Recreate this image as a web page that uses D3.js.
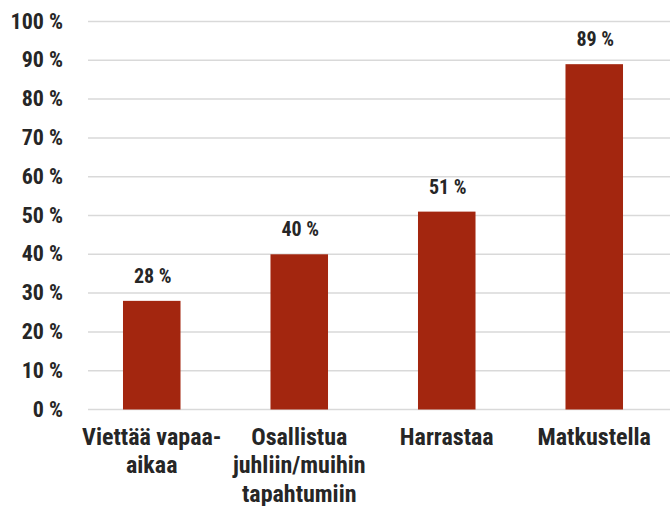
<!DOCTYPE html>
<html>
<head>
<meta charset="utf-8">
<script src="https://cdn.jsdelivr.net/npm/d3@7"></script>
<style>
  body { margin: 0; background: #fff; }
  text { font-family: "Roboto Condensed", "Open Sans", sans-serif; font-weight: bold; fill: #262626; }
</style>
</head>
<body>
<div id="chart"></div>
<script>
var categories = [["Viettää vapaa-", "aikaa"], ["Osallistua", "juhliin/muihin", "tapahtumiin"], ["Harrastaa"], ["Matkustella"]];
var values = [28, 40, 51, 89];
var yTicks = [0, 10, 20, 30, 40, 50, 60, 70, 80, 90, 100];

var svgWidth = 670;
var svgHeight = 506;

var svg = d3.select("#chart")
  .append("svg")
  .attr("width", svgWidth)
  .attr("height", svgHeight);

var gridLeft = 88;
var gridRight = 670;

var xScale = d3.scaleBand()
  .domain(d3.range(categories.length))
  .range([78, 668])
  .paddingInner(0.61)
  .paddingOuter(0.305);

var yScale = d3.scaleLinear()
  .domain([0, 100])
  .range([409.5, 21.5]);

// gridlines
svg.append("g")
  .selectAll("line")
  .data(yTicks)
  .enter()
  .append("line")
  .attr("x1", gridLeft)
  .attr("x2", gridRight)
  .attr("y1", d => yScale(d))
  .attr("y2", d => yScale(d))
  .attr("stroke", "#d9d9d9")
  .attr("stroke-width", 1.5);

// y labels
svg.append("g")
  .selectAll("text")
  .data(yTicks)
  .enter()
  .append("text")
  .attr("x", 63)
  .attr("y", d => yScale(d) + 7)
  .attr("text-anchor", "end")
  .style("font-size", "22px")
  .text(d => d + " %");

// bars
svg.append("g")
  .selectAll("rect")
  .data(values)
  .enter()
  .append("rect")
  .attr("x", (d, i) => xScale(i))
  .attr("width", xScale.bandwidth())
  .attr("y", d => yScale(d))
  .attr("height", d => yScale(0) - yScale(d))
  .attr("fill", "#a3260f");

// value labels
svg.append("g")
  .selectAll("text")
  .data(values)
  .enter()
  .append("text")
  .attr("x", (d, i) => xScale(i) + xScale.bandwidth() / 2 + 1)
  .attr("y", d => yScale(d) - 18)
  .attr("text-anchor", "middle")
  .style("font-size", "20px")
  .text(d => d + " %");

// category labels
var catGroup = svg.append("g");
categories.forEach(function(lines, i) {
  var t = catGroup.append("text")
    .attr("x", xScale(i) + xScale.bandwidth() / 2)
    .attr("y", 445)
    .attr("text-anchor", "middle")
    .style("font-size", "24px");
  lines.forEach(function(line, j) {
    t.append("tspan")
      .attr("x", xScale(i) + xScale.bandwidth() / 2)
      .attr("dy", j === 0 ? 0 : 28.3)
      .text(line);
  });
});
</script>
</body>
</html>
